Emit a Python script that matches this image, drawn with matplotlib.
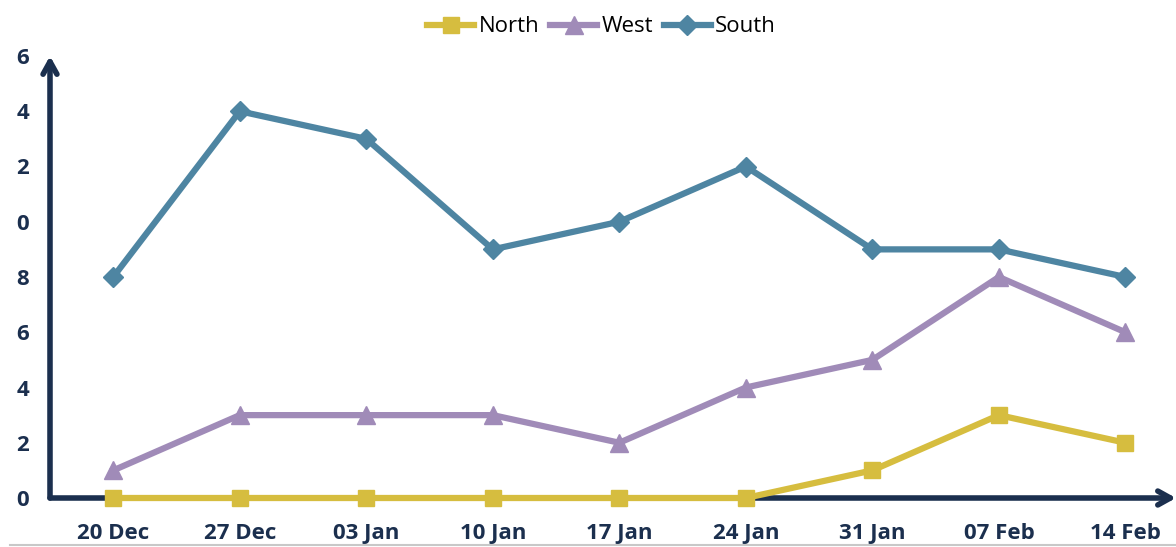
import numpy as np
import matplotlib
matplotlib.use("Agg")
import matplotlib.pyplot as plt
from matplotlib.lines import Line2D

weeks = ["20 Dec", "27 Dec", "03 Jan", "10 Jan", "17 Jan", "24 Jan", "31 Jan", "07 Feb", "14 Feb"]
north = [0, 0, 0, 0, 0, 0, 1, 3, 2]
west = [1, 3, 3, 3, 2, 4, 5, 8, 6]
south = [8, 14, 13, 9, 10, 12, 9, 9, 8]
yticks = [0, 2, 4, 6, 8, 10, 12, 14, 16]
ytick_labels = ["0", "2", "4", "6", "8", "0", "2", "4", "6"]

navy = "#1b2f4e"
plt.rcParams['font.family'] = ['Open Sans', 'DejaVu Sans']

fig = plt.figure(figsize=(11.76, 5.47), dpi=100)
ax = fig.add_axes([50 / 1176, 1 - 498 / 547, 1126 / 1176, (498 - 56) / 547])

x = np.arange(len(weeks))
ax.plot(x, north, color="#d6bd3f", lw=4.5, marker="s", ms=12, label="North", clip_on=False, zorder=3)
ax.plot(x, west, color="#a08bb8", lw=4.5, marker="^", ms=13, label="West", clip_on=False, zorder=3)
ax.plot(x, south, color="#4e85a2", lw=4.5, marker="D", ms=10, label="South", clip_on=False, zorder=3)

ax.set_xlim(-0.5, 8.4)
ax.set_ylim(0, 16)
for s in ax.spines.values():
    s.set_visible(False)

# arrow axes
ax.annotate("", xy=(0, 1.0), xytext=(0, 0), xycoords="axes fraction",
            arrowprops=dict(arrowstyle="->,head_length=0.9,head_width=0.5", color=navy, lw=4,
                            shrinkA=0, shrinkB=0), zorder=1, annotation_clip=False)
ax.annotate("", xy=(1.0, 0), xytext=(0, 0), xycoords="axes fraction",
            arrowprops=dict(arrowstyle="->,head_length=0.9,head_width=0.5", color=navy, lw=4,
                            shrinkA=0, shrinkB=0), zorder=1, annotation_clip=False)

ax.set_xticks(x)
ax.set_xticklabels(weeks)
ax.set_yticks(yticks)
ax.set_yticklabels(ytick_labels)
ax.tick_params(length=0, labelsize=16, labelcolor=navy)
ax.tick_params(axis="x", pad=18)
ax.tick_params(axis="y", pad=15)
for t in ax.get_xticklabels() + ax.get_yticklabels():
    t.set_fontweight("bold")

ax.legend(loc="upper center", bbox_to_anchor=(0.49, 1.135), ncol=3, frameon=False,
          fontsize=16, handlelength=2.1, columnspacing=0.5, handletextpad=0.2)

fig.add_artist(Line2D([10 / 1176, 1], [2 / 547, 2 / 547], color="#c8c8c8", lw=1.5))

fig.savefig("out.png", dpi=100)
